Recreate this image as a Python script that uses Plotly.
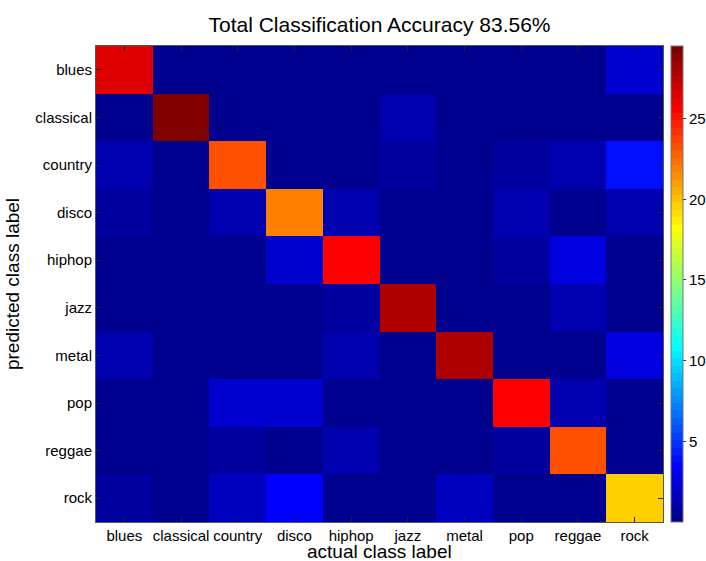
import plotly.graph_objects as go
import numpy as np

actual_labels = ["blues", "classical", "country", "disco", "hiphop",
                 "jazz", "metal", "pop", "reggae", "rock"]
predicted_labels = ["blues", "classical", "country", "disco", "hiphop",
                    "jazz", "metal", "pop", "reggae", "rock"]

# rows = predicted class, columns = actual class
row_blues     = [26.3, 0.2, 0.2, 0.2, 0.2, 0.2, 0.2, 0.2, 0.2, 2.2]
row_classical = [0.2, 29.5, 0.2, 0.2, 0.2, 1.1, 0.2, 0.2, 0.2, 0.2]
row_country   = [1.1, 0.2, 23.2, 0.2, 0.2, 0.6, 0.2, 0.6, 1.1, 3.9]
row_disco     = [0.6, 0.2, 1.1, 21.8, 1.1, 0.2, 0.2, 1.1, 0.2, 1.1]
row_hiphop    = [0.2, 0.2, 0.2, 2.0, 25.4, 0.2, 0.2, 0.6, 2.5, 0.2]
row_jazz      = [0.2, 0.2, 0.2, 0.2, 0.6, 27.7, 0.2, 0.2, 1.1, 0.4]
row_metal     = [1.1, 0.2, 0.2, 0.2, 1.1, 0.2, 27.7, 0.2, 0.2, 2.5]
row_pop       = [0.2, 0.2, 2.0, 2.0, 0.2, 0.2, 0.2, 25.8, 1.1, 0.2]
row_reggae    = [0.2, 0.2, 0.6, 0.2, 1.1, 0.2, 0.2, 0.6, 23.2, 0.2]
row_rock      = [0.6, 0.2, 1.5, 3.4, 0.2, 0.2, 1.5, 0.2, 0.2, 19.5]

colorbar_ticks = [5, 10, 15, 20, 25]
title_text = "Total Classification Accuracy 83.56%"
x_title = "actual class label"
y_title = "predicted class label"

z = [row_blues, row_classical, row_country, row_disco, row_hiphop,
     row_jazz, row_metal, row_pop, row_reggae, row_rock]


def matlab_jet(m=64):
    n = int(np.ceil(m / 4))
    u = np.concatenate([np.arange(1, n + 1) / n, np.ones(n - 1), np.arange(n, 0, -1) / n])
    g = int(np.ceil(n / 2)) - (1 if m % 4 == 1 else 0) + np.arange(1, len(u) + 1)
    r = g + n
    b = g - n
    J = np.zeros((m, 3))
    for idx, arr in ((0, r), (1, g), (2, b)):
        mask = (arr >= 1) & (arr <= m)
        J[arr[mask] - 1, idx] = u[mask]
    return J


J = matlab_jet(64)
colorscale = []
for i, c in enumerate(J):
    col = "rgb(%d,%d,%d)" % tuple(np.round(c * 255).astype(int))
    colorscale.append([i / 64, col])
    colorscale.append([(i + 1) / 64, col])

font_family = "Liberation Sans, Arial, Helvetica, sans-serif"

fig = go.Figure(go.Heatmap(
    z=z, x=actual_labels, y=predicted_labels,
    colorscale=colorscale, zmin=0, zmax=max(max(r) for r in z),
    colorbar=dict(
        thickness=12, len=1.0, lenmode="fraction", y=0.5, yanchor="middle",
        x=1.014, xanchor="left", xpad=0, ypad=0,
        outlinewidth=1, outlinecolor="#777",
        tickvals=colorbar_ticks, ticks="outside", ticklen=3, tickcolor="#333",
        tickfont=dict(size=15, color="black", family=font_family),
    ),
    hoverongaps=False,
))

fig.update_layout(
    width=706, height=561,
    margin=dict(l=96, r=43, t=46, b=39, autoexpand=False),
    paper_bgcolor="white", plot_bgcolor="white",
    font=dict(family=font_family, color="black"),
    title=dict(text=title_text, x=0.5, xref="paper", xanchor="center",
               y=1 - 25 / 561, yanchor="middle",
               font=dict(size=21, color="black", family=font_family)),
    annotations=[dict(text=x_title, xref="paper", yref="paper",
                      x=0.5, y=-(551 - 522) / 476, xanchor="center", yanchor="middle",
                      showarrow=False, font=dict(size=19, color="black"))],
)
fig.update_xaxes(
    automargin=False,
    ticks="inside", ticklen=5, tickcolor="#222", mirror="allticks",
    showline=True, linecolor="#555", linewidth=1,
    tickfont=dict(size=15, color="black"), showgrid=False, zeroline=False,
)
fig.update_yaxes(
    title=dict(text=y_title, font=dict(size=19), standoff=10),
    automargin=False,
    autorange="reversed",
    ticks="inside", ticklen=5, tickcolor="#222", mirror="allticks",
    showline=True, linecolor="#555", linewidth=1,
    tickfont=dict(size=15, color="black"), showgrid=False, zeroline=False,
)

fig.write_html("out.html")
